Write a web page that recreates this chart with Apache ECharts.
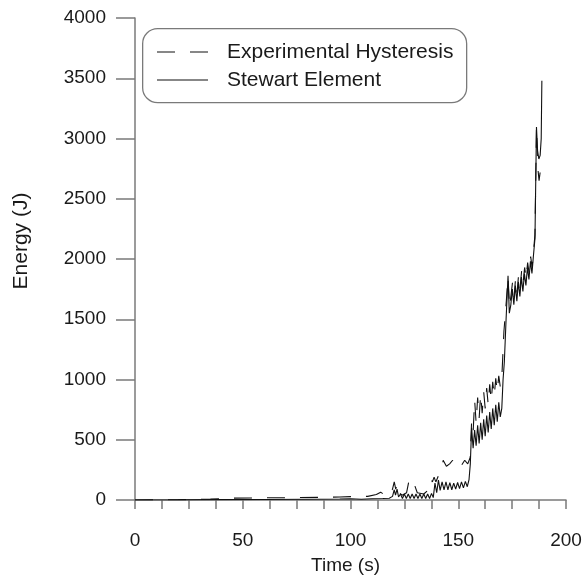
<!DOCTYPE html>
<html>
<head>
<meta charset="utf-8">
<script src="https://cdn.jsdelivr.net/npm/echarts@6/dist/echarts.min.js"></script>
<style>html,body{margin:0;padding:0;background:#fff}#c{width:587px;height:580px}</style>
</head>
<body>
<div id="c"></div>
<script>
// Stewart Element (solid)
const stewartTime = [0,20,40,60,80,95,100,105,110,115,118,119.5,120.3,120.9,121.6,122.3,123.2,124.1,125.0,125.9,126.8,127.7,128.6,129.5,130.4,131.3,132.2,133.1,134.0,134.9,135.8,136.7,137.6,138.4,139.2,140.0,140.8,141.6,142.5,143.4,144.3,145.2,146.1,147.0,147.9,148.8,149.7,150.6,151.5,152.4,153.3,154.2,155.0,155.6,156.2,156.9,157.6,158.3,159.0,159.7,160.4,161.1,161.8,162.5,163.2,163.9,164.6,165.3,166.0,166.7,167.4,168.1,168.8,169.5,170.2,170.8,171.4,172.2,173.1,173.7,174.4,175.1,175.8,176.5,177.2,177.9,178.6,179.3,180.0,180.7,181.4,182.1,182.8,183.5,184.2,184.9,185.6,186.3,186.8,187.4,188.0,188.5,188.8];
const stewartEnergy = [0,1,3,4,6,8,10,6,10,12,14,30,85,40,90,25,50,12,50,12,50,12,50,12,50,12,50,12,50,12,50,12,55,20,140,60,165,80,150,85,150,85,145,85,140,90,145,95,150,100,155,110,170,300,600,430,580,450,620,470,640,500,670,530,700,560,730,590,760,620,790,650,810,690,760,1000,1150,1500,1860,1550,1620,1750,1620,1780,1650,1810,1690,1850,1730,1880,1780,1930,1830,1980,1880,2030,2170,3095,2900,2830,2860,3000,3480];

// Experimental Hysteresis (dashed)
const expTime = [0,20,35,45,60,75,85,95,100,108,112,114,116,118,119.5,120.3,121.0,121.7,122.5,124,126,127.2,128.0,128.8,129.6,131,134,136.5,137.3,138.0,138.8,139.6,141,142.3,143.0,144.5,146.0,147.4,148.8,150.2,151.6,153.0,154.4,155.5,156.2,156.9,157.6,158.3,159.0,159.7,160.4,161.1,161.8,162.5,163.2,163.9,164.6,165.3,166.0,166.7,167.4,168.1,168.8,169.5,170.3,171.2,172.3,173.1,173.8,174.5,175.2,175.9,176.6,177.3,178.0,178.7,179.4,180.1,180.8,181.5,182.2,182.9,183.6,184.3,185.0,185.6,186.3,186.9,187.5,188.0,188.7];
const expEnergy = [0,2,8,15,18,20,22,25,28,30,45,65,40,25,90,150,90,140,60,40,60,165,140,160,130,60,50,90,175,150,190,150,210,250,330,280,300,330,290,320,290,330,300,350,650,560,830,640,850,680,880,720,900,760,930,790,960,820,980,860,1010,900,1030,940,1050,1400,1650,1850,1600,1700,1810,1680,1840,1720,1870,1760,1900,1800,1930,1840,1970,1880,2020,1930,2080,2200,3100,2760,2650,2720,2800];

const xTicksMajor = [0,50,100,150,200];
const seriesNames = ['Experimental Hysteresis','Stewart Element'];

const zip = (a,b) => a.map((v,i)=>[v,b[i]]);
const axisCol = '#7a7a7a';
const txtCol = '#1a1a1a';
const font = 'Liberation Sans, Arial, Helvetica, sans-serif';
const DASH = [18,15];

const chart = echarts.init(document.getElementById('c'), null, {renderer:'canvas'});
chart.setOption({
  animation:false,
  backgroundColor:'#fff',
  grid:{left:135,right:21,top:18,bottom:80,containLabel:false},
  graphic:[
    {type:'rect',left:142,top:28,z:10,shape:{width:324,height:74,r:15},
     style:{fill:'#fff',stroke:axisCol,lineWidth:1.3}},
    {type:'line',z:11,shape:{x1:157,y1:52,x2:208,y2:52},style:{stroke:'#111',lineWidth:1.1,lineDash:DASH}},
    {type:'line',z:11,shape:{x1:157,y1:80,x2:208,y2:80},style:{stroke:'#111',lineWidth:1.1}},
    {type:'text',z:11,x:227,y:52,style:{text:seriesNames[0],font:'21px '+font,fill:txtCol,textVerticalAlign:'middle',verticalAlign:'middle'}},
    {type:'text',z:11,x:227,y:80,style:{text:seriesNames[1],font:'21px '+font,fill:txtCol,textVerticalAlign:'middle',verticalAlign:'middle'}}
  ],
  xAxis:{
    type:'value', min:0, max:200, interval:12.5,
    name:'Time (s)', nameLocation:'middle', nameGap:56,
    nameTextStyle:{fontFamily:font,fontSize:19,color:txtCol,padding:[0,10,0,0]},
    axisLine:{show:true,onZero:false,lineStyle:{color:axisCol,width:1.5}},
    axisTick:{show:true,inside:false,length:9,lineStyle:{color:axisCol,width:1.5}},
    axisLabel:{margin:31,fontFamily:font,fontSize:19,color:txtCol,
      formatter:v=> xTicksMajor.indexOf(v)>=0 ? String(v) : ''},
    splitLine:{show:false}
  },
  yAxis:{
    type:'value', min:0, max:4000, interval:500,
    name:'Energy (J)', nameLocation:'middle', nameGap:103,
    nameTextStyle:{fontFamily:font,fontSize:21,color:txtCol,padding:[0,0,0,36]},
    axisLine:{show:true,lineStyle:{color:axisCol,width:1.5}},
    axisTick:{show:true,inside:false,length:19,lineStyle:{color:axisCol,width:1.5}},
    axisLabel:{margin:29,fontFamily:font,fontSize:19,color:txtCol,formatter:v=>String(v)},
    splitLine:{show:false}
  },
  series:[
    {name:seriesNames[0],type:'line',data:zip(expTime,expEnergy),showSymbol:false,symbol:'none',
     lineStyle:{color:'#111',width:1.1,type:DASH},z:3},
    {name:seriesNames[1],type:'line',data:zip(stewartTime,stewartEnergy),showSymbol:false,symbol:'none',
     lineStyle:{color:'#111',width:1.1,type:'solid'},z:4}
  ]
});
</script>
</body>
</html>
